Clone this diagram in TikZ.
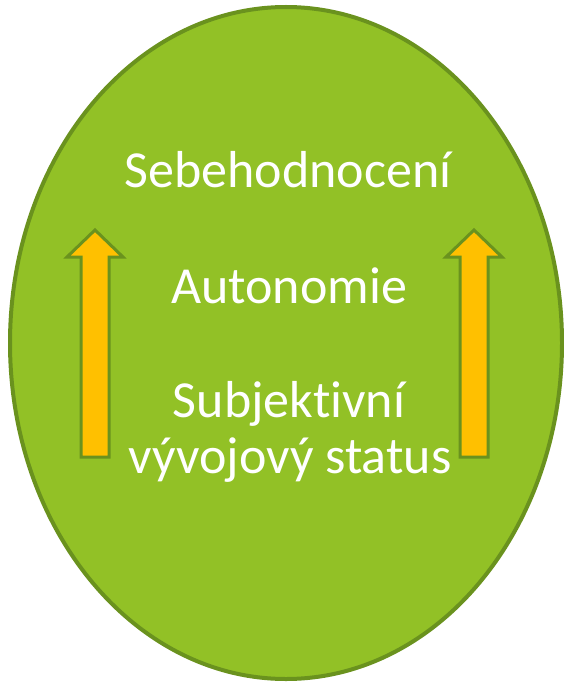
\documentclass[tikz,border=0pt]{standalone}
\usepackage{fontspec}
\setmainfont[Ligatures=NoCommon]{Carlito}
\usepackage{xcolor}
\usepackage{tikz}

\definecolor{leafgreen}{RGB}{146,193,38}
\definecolor{darkleaf}{RGB}{106,146,30}
\definecolor{arrowgold}{RGB}{255,192,0}

\tikzset{
  oval/.style={fill=leafgreen, draw=darkleaf, line width=4pt},
  uparrow/.style={fill=arrowgold, draw=darkleaf, line width=3pt, line join=miter},
  label/.style={text=white, font=\fontsize{52}{56}\selectfont, anchor=base, inner sep=0pt}
}

\begin{document}
\begin{tikzpicture}[x=1pt, y=-1pt]
  \useasboundingbox (0,0) rectangle (564,682);
  \draw[oval] (286,343) ellipse [x radius=276pt, y radius=336pt];
  % the two rising arrows
  \foreach \cx in {95,474} {
    \draw[uparrow] (\cx,230) -- (\cx+28,257) -- (\cx+14,257) -- (\cx+14,457)
      -- (\cx-14,457) -- (\cx-14,257) -- (\cx-28,257) -- cycle;
  }
  \node[label] (self) at (288,187) {Sebehodnocení};
  \node[label] (auto) at (289,303) {Autonomie};
  \node[label] (subj) at (289,417) {Subjektivní};
  \node[label] (stat) at (290,473) {vývojový status};
\end{tikzpicture}
\end{document}
